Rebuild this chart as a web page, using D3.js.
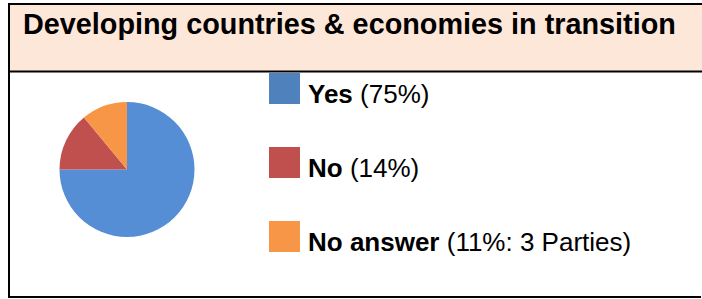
<!DOCTYPE html>
<html><head><meta charset="utf-8">
<script src="https://cdn.jsdelivr.net/npm/d3@7"></script>
<style>body{margin:0;background:#fff}svg{display:block}</style>
</head><body>
<script>
const title = "Developing countries & economies in transition";
const categories = ["Yes", "No", "No answer"];
const values = [75, 14, 11];
const labelNotes = ["(75%)", "(14%)", "(11%: 3 Parties)"];
const sliceColors = ["#558ed5", "#c0504d", "#f79646"];
const legendColors = ["#4f81bd", "#c0504d", "#f79646"];

const W = 702, H = 299;
const svg = d3.select("body").append("svg").attr("width", W).attr("height", H);
const font = "Liberation Sans, Arial, Helvetica, sans-serif";

// title band
svg.append("rect").attr("x", 9).attr("y", 4).attr("width", W - 9).attr("height", 67).attr("fill", "#fde7d8");
svg.append("text").attr("x", 23).attr("y", 34).attr("font-family", font).attr("font-weight", "bold")
  .attr("font-size", 28.8).attr("fill", "#000").text(title);

// borders
svg.append("line").attr("x1", 8).attr("x2", W).attr("y1", 4).attr("y2", 4).attr("stroke", "#000").attr("stroke-width", 2);
svg.append("line").attr("x1", 9).attr("x2", 9).attr("y1", 3).attr("y2", 298).attr("stroke", "#000").attr("stroke-width", 2);
svg.append("line").attr("x1", 8).attr("x2", 701).attr("y1", 297).attr("y2", 297).attr("stroke", "#000").attr("stroke-width", 2);
svg.append("line").attr("x1", 8).attr("x2", W).attr("y1", 71.5).attr("y2", 71.5).attr("stroke", "#000").attr("stroke-width", 2);

// pie
const pie = d3.pie().sort(null).value(d => d)(values);
const arc = d3.arc().innerRadius(0).outerRadius(67.5);
svg.append("g").attr("transform", "translate(127,169.5)")
  .selectAll("path").data(pie).join("path")
  .attr("d", arc).attr("fill", (d, i) => sliceColors[i]);

// legend
const ly = d3.scalePoint().domain(categories).range([73, 221]);
const lg = svg.append("g").selectAll("g").data(categories).join("g")
  .attr("transform", d => `translate(269,${ly(d)})`);
lg.append("rect").attr("width", 31).attr("height", 31).attr("fill", (d, i) => legendColors[i]);
const t = lg.append("text").attr("x", 39).attr("y", 29.5).attr("font-family", font).attr("font-size", 26).attr("fill", "#000");
t.append("tspan").attr("font-weight", "bold").text(d => d);
t.append("tspan").text((d, i) => " " + labelNotes[i]);
</script>
</body></html>
